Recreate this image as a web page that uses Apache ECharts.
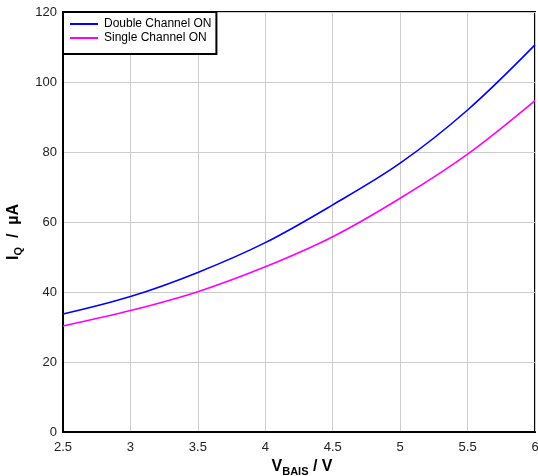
<!DOCTYPE html>
<html>
<head>
<meta charset="utf-8">
<script src="https://cdn.jsdelivr.net/npm/echarts@6/dist/echarts.min.js"></script>
<style>
  html, body { margin: 0; padding: 0; background: #fff; }
  #chart { width: 538px; height: 476px; }
</style>
</head>
<body>
<div id="chart"></div>
<script>
// Bias voltage (V)
const vBias = [2.5, 3, 3.5, 4, 4.5, 5, 5.5, 6];
// Quiescent current (µA)
const doubleChannel = [33.7, 38.7, 45.6, 54.1, 64.9, 76.8, 92.0, 110.6];
const singleChannel = [30.3, 34.7, 40.1, 47.2, 55.8, 66.8, 79.4, 94.7];

const xTicks = [2.5, 3, 3.5, 4, 4.5, 5, 5.5, 6];
const yTicks = [0, 20, 40, 60, 80, 100, 120];

const seriesNames = ['Double Channel ON', 'Single Channel ON'];
const seriesColors = ['#0000ff', '#ff00ff'];

const font = 'Liberation Sans, Arial, sans-serif';

// Bold title with a smaller, lowered subscript
const titleRich = {
  m: { fontFamily: font, fontSize: 16, fontWeight: 'bold', color: '#000', lineHeight: 18, verticalAlign: 'bottom' },
  s: { fontFamily: font, fontSize: 11, fontWeight: 'bold', color: '#000', lineHeight: 14, verticalAlign: 'bottom', padding: [0, 0, -3, 0] }
};

const chart = echarts.init(document.getElementById('chart'), null, { renderer: 'canvas' });

chart.setOption({
  animation: false,
  backgroundColor: '#fff',
  textStyle: { fontFamily: font },
  grid: {
    left: 63, right: 3, top: 12, bottom: 44,
    containLabel: false,
    outerBoundsMode: 'none',
    show: true, borderColor: '#000', borderWidth: 2, backgroundColor: 'transparent'
  },
  legend: {
    orient: 'vertical',
    left: 63, top: 12,
    backgroundColor: '#fff',
    borderColor: '#000',
    borderWidth: 2,
    borderRadius: 0,
    padding: [6, 5, 10, 7],
    itemGap: 2,
    itemWidth: 28,
    itemHeight: 2,
    icon: 'rect',
    textStyle: { fontFamily: font, fontSize: 12, color: '#000', padding: [0, 0, 0, 1] },
    data: seriesNames.map((n, i) => ({ name: n, itemStyle: { color: seriesColors[i] } }))
  },
  xAxis: {
    type: 'value',
    min: 2.5, max: 6, interval: 0.5,
    axisLine: { show: true, lineStyle: { color: '#000', width: 2 } },
    axisTick: { show: false },
    axisLabel: {
      color: '#222', fontSize: 13, margin: 9,
      customValues: xTicks,
      formatter: v => String(v)
    },
    splitLine: { show: true, lineStyle: { color: '#cccccc', width: 1 } },
    name: '{m|V}{s|BAIS}{m| / V}',
    nameLocation: 'middle',
    nameGap: 21,
    nameTextStyle: { rich: titleRich, padding: [0, 0, 0, 6] }
  },
  yAxis: {
    type: 'value',
    min: 0, max: 120, interval: 20,
    axisLine: { show: true, lineStyle: { color: '#000', width: 2 } },
    axisTick: { show: false },
    axisLabel: {
      color: '#222', fontSize: 13, margin: 6,
      customValues: yTicks
    },
    splitLine: { show: true, lineStyle: { color: '#cccccc', width: 1 } },
    name: '{m|I}{s|Q}{m|  /  µA}',
    nameLocation: 'middle',
    nameRotate: 90,
    nameGap: 25,
    nameTextStyle: { rich: titleRich, padding: [0, 20, 0, 0] }
  },
  series: [
    {
      name: seriesNames[0],
      type: 'line',
      data: vBias.map((v, i) => [v, doubleChannel[i]]),
      smooth: 0.35,
      symbol: 'none',
      lineStyle: { color: seriesColors[0], width: 1.6 },
      itemStyle: { color: seriesColors[0] },
      z: 3
    },
    {
      name: seriesNames[1],
      type: 'line',
      data: vBias.map((v, i) => [v, singleChannel[i]]),
      smooth: 0.35,
      symbol: 'none',
      lineStyle: { color: seriesColors[1], width: 1.6 },
      itemStyle: { color: seriesColors[1] },
      z: 2
    }
  ]
});
</script>
</body>
</html>
